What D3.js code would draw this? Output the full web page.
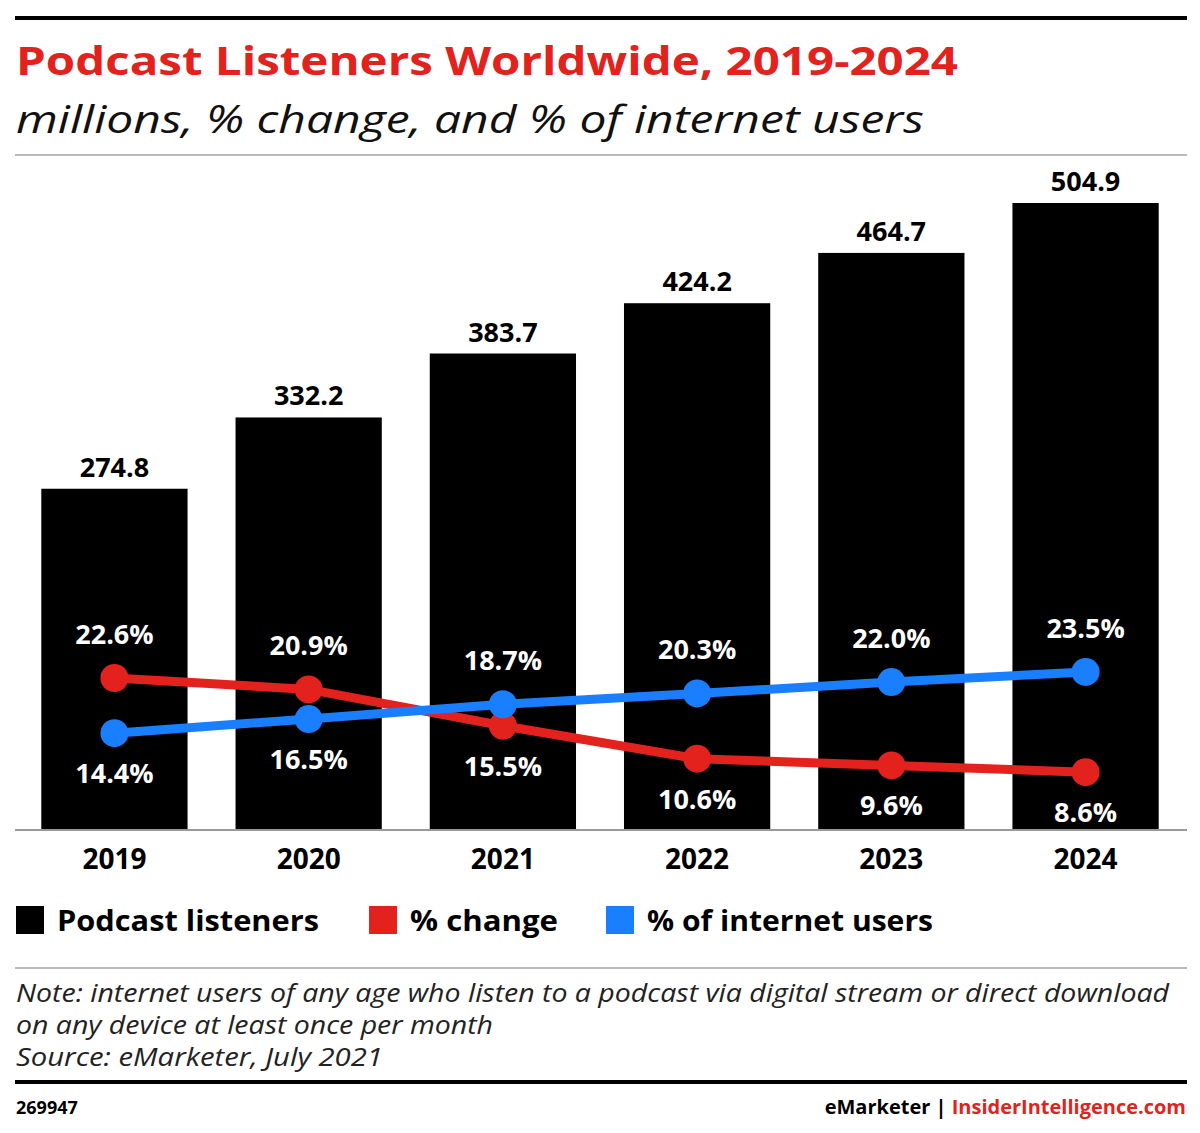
<!DOCTYPE html>
<html><head><meta charset="utf-8">
<script src="https://cdn.jsdelivr.net/npm/d3@7"></script>
<style>body{margin:0;background:#fff}</style></head>
<body><svg id="c" width="1200" height="1133"></svg>
<script>
const years=["2019","2020","2021","2022","2023","2024"];
const listeners=[274.8,332.2,383.7,424.2,464.7,504.9];
const pctChange=[22.6,20.9,15.5,10.6,9.6,8.6];
const pctUsers=[14.4,16.5,18.7,20.3,22.0,23.5];
const F="'Open Sans', Lato, sans-serif";
const svg=d3.select("#c");
const tl=(s,L)=>s.attr("textLength",L).attr("lengthAdjust","spacingAndGlyphs");
svg.append("rect").attr("x",15).attr("y",16).attr("width",1172).attr("height",4).attr("fill","#000");
tl(svg.append("text").attr("x",16).attr("y",75).attr("font-family",F).attr("font-weight",700).attr("font-size",40).attr("fill","#e3221e").text("Podcast Listeners Worldwide, 2019-2024"),942);
tl(svg.append("text").attr("x",16).attr("y",133).attr("font-family",F).attr("font-style","italic").attr("font-size",39).attr("fill","#111").text("millions, % change, and % of internet users"),908);
svg.append("rect").attr("x",15).attr("y",154).attr("width",1172).attr("height",2).attr("fill","#bbb");
const x=d3.scaleBand().domain(years).range([18,1182]).paddingInner(0.247).paddingOuter(0.12);
const y=d3.scaleLinear().domain([0,504.9]).range([830,203]);
const yp=d3.scaleLinear().domain([0,22.6]).range([830,678]);
svg.selectAll(".bar").data(years).enter().append("rect").attr("x",d=>x(d)).attr("width",x.bandwidth())
 .attr("y",(d,i)=>y(listeners[i])).attr("height",(d,i)=>830-y(listeners[i])).attr("fill","#000");
svg.selectAll(".bl").data(years).enter().append("text").attr("x",d=>x(d)+x.bandwidth()/2).attr("y",(d,i)=>y(listeners[i])-12)
 .attr("text-anchor","middle").attr("font-family",F).attr("font-weight",700).attr("font-size",27).text((d,i)=>listeners[i].toFixed(1));
svg.append("rect").attr("x",15).attr("y",829).attr("width",1172).attr("height",2).attr("fill","#999");
const cx=d=>x(d)+x.bandwidth()/2;
const line=arr=>d3.line().x((d,i)=>cx(years[i])).y(d=>yp(d))(arr);
[[pctChange,"#e3221e"],[pctUsers,"#1a7fff"]].forEach(([arr,col])=>{
 svg.append("path").attr("d",line(arr)).attr("fill","none").attr("stroke",col).attr("stroke-width",9);
 svg.selectAll(null).data(arr).enter().append("circle").attr("cx",(d,i)=>cx(years[i])).attr("cy",d=>yp(d)).attr("r",14).attr("fill",col);
});
years.forEach((yr,i)=>{
 const a=pctChange[i],b=pctUsers[i];
 [[a,a>=b],[b,b>a]].forEach(([v,above])=>{
  svg.append("text").attr("x",cx(yr)).attr("y",above?yp(v)-34:yp(v)+50).attr("text-anchor","middle")
   .attr("font-family",F).attr("font-weight",700).attr("font-size",27).attr("fill","#fff").text(v.toFixed(1)+"%");
 });
 svg.append("text").attr("x",cx(yr)).attr("y",869).attr("text-anchor","middle").attr("font-family",F).attr("font-weight",700).attr("font-size",28).text(yr);
});
const leg=[["Podcast listeners","#000",16,262],["% change","#e3221e",369,148],["% of internet users","#1a7fff",606,286]];
leg.forEach(([t,c,lx,L])=>{
 svg.append("rect").attr("x",lx).attr("y",906).attr("width",28).attr("height",28).attr("fill",c);
 tl(svg.append("text").attr("x",lx+41).attr("y",931).attr("font-family",F).attr("font-weight",700).attr("font-size",29).text(t),L);
});
svg.append("rect").attr("x",15).attr("y",967).attr("width",1172).attr("height",2).attr("fill","#bbb");
[["Note: internet users of any age who listen to a podcast via digital stream or direct download",1153],["on any device at least once per month",477],["Source: eMarketer, July 2021",367]].forEach(([t,L],i)=>{
 tl(svg.append("text").attr("x",16).attr("y",1002+i*32).attr("font-family",F).attr("font-style","italic").attr("font-size",25).attr("fill","#222").text(t),L);
});
svg.append("rect").attr("x",15).attr("y",1080).attr("width",1172).attr("height",4).attr("fill","#000");
svg.append("text").attr("x",16).attr("y",1114).attr("font-family",F).attr("font-weight",700).attr("font-size",18).text("269947");
const ft=svg.append("text").attr("x",1186).attr("y",1114).attr("text-anchor","end").attr("font-family",F).attr("font-weight",700).attr("font-size",20);
ft.append("tspan").attr("fill","#000").text("eMarketer  |  ");
ft.append("tspan").attr("fill","#e3221e").text("InsiderIntelligence.com");
</script></body></html>
